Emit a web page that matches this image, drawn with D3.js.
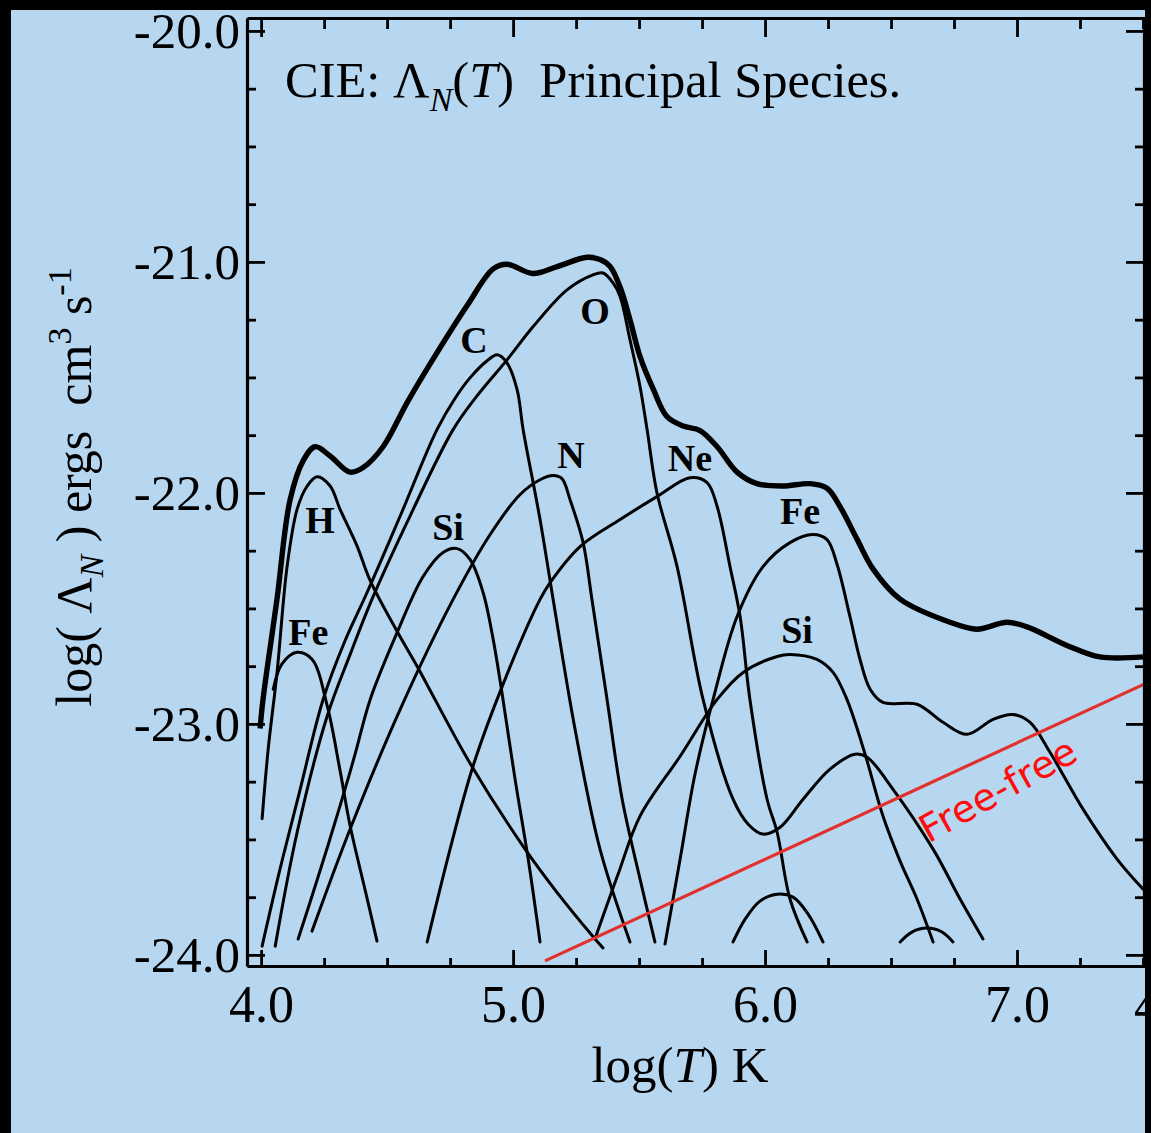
<!DOCTYPE html>
<html><head><meta charset="utf-8">
<script src="https://cdn.jsdelivr.net/npm/d3@7"></script>
<style>
html,body{margin:0;padding:0;background:#b7d7f0;}
svg{display:block}
text{font-family:"Liberation Serif","Times New Roman",serif;}
</style>
</head><body>
<svg id="c" width="1151" height="1133"></svg>
<script>
// ---------- DATA (log T, log Lambda) ----------
const xMajorTicks = [4.0, 5.0, 6.0, 7.0];
const xTickLabels = ["4.0", "5.0", "6.0", "7.0"];
const yMajorTicks = [-20, -21, -22, -23, -24];
const yTickLabels = ["-20.0", "-21.0", "-22.0", "-23.0", "-24.0"];
const xMinorTicks = [4.25,4.5,4.75,5.25,5.5,5.75,6.25,6.5,6.75,7.25,7.5];
const yMinorTicks = [-20.25,-20.5,-20.75,-21.25,-21.5,-21.75,-22.25,-22.5,-22.75,-23.25,-23.5,-23.75];

const total = [[3.996,-23.02],[4.008,-22.89],[4.063,-22.46],[4.115,-22.03],[4.167,-21.86],[4.214,-21.80],[4.274,-21.84],[4.353,-21.91],[4.405,-21.89],[4.484,-21.80],[4.579,-21.61],[4.683,-21.42],[4.817,-21.19],[4.921,-21.03],[4.976,-21.01],[5.079,-21.05],[5.175,-21.02],[5.294,-20.98],[5.345,-20.99],[5.385,-21.02],[5.425,-21.11],[5.464,-21.25],[5.504,-21.41],[5.556,-21.55],[5.611,-21.67],[5.675,-21.71],[5.742,-21.73],[5.810,-21.80],[5.889,-21.91],[5.968,-21.96],[6.071,-21.97],[6.179,-21.96],[6.246,-21.98],[6.298,-22.06],[6.365,-22.20],[6.429,-22.33],[6.536,-22.46],[6.734,-22.56],[6.841,-22.59],[6.960,-22.56],[7.040,-22.58],[7.198,-22.66],[7.329,-22.71],[7.500,-22.71]];
const hydrogen = [[4.004,-23.41],[4.028,-23.11],[4.063,-22.78],[4.103,-22.32],[4.143,-22.07],[4.183,-21.97],[4.222,-21.93],[4.274,-21.97],[4.313,-22.07],[4.381,-22.23],[4.433,-22.38],[4.540,-22.60],[4.619,-22.75],[4.829,-23.17],[5.040,-23.53],[5.175,-23.73],[5.317,-23.92],[5.357,-23.97]];
const ironLow = [[4.048,-22.85],[4.083,-22.74],[4.143,-22.69],[4.202,-22.72],[4.262,-22.92],[4.313,-23.20],[4.353,-23.44],[4.413,-23.72],[4.460,-23.94]];
const carbon = [[4.004,-23.962],[4.075,-23.629],[4.155,-23.283],[4.246,-22.894],[4.333,-22.640],[4.421,-22.430],[4.552,-22.100],[4.698,-21.726],[4.770,-21.590],[4.829,-21.502],[4.897,-21.428],[4.937,-21.402],[4.976,-21.437],[5.016,-21.553],[5.040,-21.726],[5.107,-22.115],[5.159,-22.461],[5.246,-23.023],[5.345,-23.542],[5.464,-23.944]];
const oxygen = [[4.056,-23.962],[4.143,-23.469],[4.262,-22.967],[4.353,-22.700],[4.444,-22.450],[4.591,-22.100],[4.762,-21.726],[4.857,-21.580],[4.976,-21.424],[5.079,-21.281],[5.214,-21.121],[5.317,-21.056],[5.357,-21.048],[5.397,-21.091],[5.425,-21.151],[5.464,-21.337],[5.504,-21.540],[5.532,-21.726],[5.571,-21.999],[5.651,-22.319],[5.754,-22.894],[5.873,-23.326],[5.933,-23.434],[5.992,-23.477],[6.060,-23.447],[6.151,-23.326],[6.258,-23.196],[6.357,-23.131],[6.405,-23.144],[6.508,-23.283],[6.667,-23.542],[6.774,-23.758],[6.865,-23.931]];
const siliconLow = [[4.147,-23.931],[4.226,-23.663],[4.313,-23.356],[4.373,-23.131],[4.433,-22.894],[4.540,-22.604],[4.643,-22.362],[4.722,-22.258],[4.778,-22.241],[4.829,-22.288],[4.881,-22.431],[4.921,-22.634],[4.960,-22.894],[5.008,-23.240],[5.060,-23.585],[5.107,-23.944]];
const nitrogen = [[4.202,-23.897],[4.353,-23.456],[4.552,-22.937],[4.762,-22.461],[4.909,-22.180],[5.028,-22.007],[5.107,-21.943],[5.159,-21.925],[5.194,-21.938],[5.226,-22.029],[5.278,-22.215],[5.313,-22.461],[5.373,-22.894],[5.433,-23.326],[5.504,-23.672],[5.563,-23.944]];
const neon = [[4.659,-23.944],[4.750,-23.542],[4.841,-23.183],[4.968,-22.807],[5.107,-22.461],[5.147,-22.388],[5.266,-22.232],[5.425,-22.115],[5.571,-22.016],[5.702,-21.934],[5.770,-21.955],[5.810,-22.059],[5.861,-22.319],[5.901,-22.535],[5.940,-22.894],[6.008,-23.326],[6.048,-23.469],[6.099,-23.758],[6.167,-23.944]];
const ironHigh = [[5.603,-23.953],[5.663,-23.585],[5.722,-23.218],[5.794,-22.894],[5.889,-22.535],[5.992,-22.319],[6.099,-22.215],[6.190,-22.180],[6.246,-22.202],[6.286,-22.310],[6.337,-22.535],[6.377,-22.721],[6.417,-22.850],[6.468,-22.907],[6.603,-22.915],[6.706,-22.993],[6.802,-23.045],[6.905,-22.980],[6.984,-22.959],[7.052,-22.993],[7.131,-23.123],[7.262,-23.369],[7.397,-23.585],[7.500,-23.715]];
const siliconHigh = [[5.325,-23.931],[5.417,-23.650],[5.504,-23.399],[5.663,-23.140],[5.810,-22.894],[5.913,-22.777],[6.048,-22.708],[6.099,-22.699],[6.206,-22.721],[6.270,-22.777],[6.325,-22.894],[6.397,-23.131],[6.468,-23.399],[6.536,-23.594],[6.603,-23.758],[6.667,-23.944]];
const minorBumpA = [[5.873,-23.944],[5.921,-23.845],[5.980,-23.767],[6.048,-23.737],[6.111,-23.750],[6.171,-23.823],[6.230,-23.944]];
const minorBumpB = [[6.536,-23.944],[6.583,-23.901],[6.643,-23.884],[6.702,-23.901],[6.746,-23.944]];
const freeFree = [[5.127,-24.026],[7.52,-22.82]];

const speciesNames = ["Fe","H","Si","C","O","N","Ne","Fe","Si"];
const speciesLabelAt = [[4.187,-22.60],[4.234,-22.115],[4.742,-22.146],[4.845,-21.337],[5.325,-21.208],[5.230,-21.834],[5.702,-21.847],[6.139,-22.077],[6.127,-22.591]];
const freeFreeLabel = "Free-free";
const freeFreeLabelAt = [6.950,-23.335];

// ---------- CHART ----------
const svg = d3.select("#c");
const W = 1151, H = 1133;
svg.append("rect").attr("width", W).attr("height", H).attr("fill", "#b7d7f0");

const x = d3.scaleLinear().domain([3.944, 7.508]).range([247, 1145]);
const y = d3.scaleLinear().domain([-24.048, -19.944]).range([966, 18]);

const line = d3.line().x(d => x(d[0])).y(d => y(d[1])).curve(d3.curveCatmullRom.alpha(0.5));

const thin = [hydrogen, ironLow, carbon, oxygen, siliconLow, nitrogen, neon, ironHigh, siliconHigh, minorBumpA, minorBumpB];
svg.append("g").selectAll("path").data(thin).join("path")
  .attr("d", line).attr("fill", "none").attr("stroke", "#000")
  .attr("stroke-width", 3).attr("stroke-linecap", "round").attr("stroke-linejoin", "round");
svg.append("path").datum(total).attr("d", line).attr("fill", "none")
  .attr("stroke", "#000").attr("stroke-width", 5.4).attr("stroke-linejoin", "round");

// free-free
svg.append("path").datum(freeFree).attr("d", d3.line().x(d => x(d[0])).y(d => y(d[1])))
  .attr("stroke", "#e2312c").attr("stroke-width", 3.2).attr("fill", "none");
svg.append("text").attr("transform", `translate(${x(freeFreeLabelAt[0])},${y(freeFreeLabelAt[1])}) rotate(-29)`)
  .attr("text-anchor", "middle").style("font-family", "'DejaVu Sans',sans-serif").style("font-size", "38px")
  .style("letter-spacing", "0.5px")
  .attr("fill", "#ff0d0d").text(freeFreeLabel);

// species labels
svg.append("g").selectAll("text").data(speciesNames).join("text")
  .attr("x", (d, i) => x(speciesLabelAt[i][0])).attr("y", (d, i) => y(speciesLabelAt[i][1]))
  .attr("dy", "0.36em").attr("text-anchor", "middle")
  .style("font-weight", "bold").style("font-size", "38px").text(d => d);

// axes
function styleAxis(g) {
  g.select(".domain").attr("stroke", "#000").attr("stroke-width", 3.2);
  g.selectAll(".tick line").attr("stroke", "#000").attr("stroke-width", 2.8);
}
const fmtX = d => xTickLabels[xMajorTicks.indexOf(d)];
const fmtY = d => yTickLabels[yMajorTicks.indexOf(d)];

const gB = svg.append("g").attr("transform", "translate(0,966)");
gB.call(d3.axisBottom(x).tickValues(xMinorTicks).tickSize(-8).tickSizeOuter(0).tickFormat(""));
gB.append("g").call(d3.axisBottom(x).tickValues(xMajorTicks).tickSize(-16).tickSizeOuter(0).tickPadding(19).tickFormat(fmtX));
gB.selectAll("text").attr("fill", "#000").style("font-size", "52px").style("font-family", "'Liberation Serif',serif");
styleAxis(gB); styleAxis(gB.select("g"));

const gT = svg.append("g").attr("transform", "translate(0,18)");
gT.call(d3.axisTop(x).tickValues(xMinorTicks).tickSize(-11).tickSizeOuter(0).tickFormat(""));
gT.append("g").call(d3.axisTop(x).tickValues(xMajorTicks).tickSize(-19).tickSizeOuter(0).tickFormat(""));
styleAxis(gT); styleAxis(gT.select("g"));

const gL = svg.append("g").attr("transform", "translate(247,0)");
gL.call(d3.axisLeft(y).tickValues(yMinorTicks).tickSize(-9).tickSizeOuter(0).tickFormat(""));
gL.append("g").call(d3.axisLeft(y).tickValues(yMajorTicks).tickSize(-18).tickSizeOuter(0).tickPadding(7).tickFormat(fmtY));
gL.selectAll("text").attr("fill", "#000").style("font-size", "51px").style("font-family", "'Liberation Serif',serif");
styleAxis(gL); styleAxis(gL.select("g"));

const gR = svg.append("g").attr("transform", "translate(1144,0)");
gR.call(d3.axisRight(y).tickValues(yMinorTicks).tickSize(-9).tickSizeOuter(0).tickFormat(""));
gR.append("g").call(d3.axisRight(y).tickValues(yMajorTicks).tickSize(-18).tickSizeOuter(0).tickFormat(""));
styleAxis(gR); styleAxis(gR.select("g"));

// title
const title = svg.append("text").attr("x", 285).attr("y", 97).style("font-size", "50.5px").attr("fill", "#000")
  .attr("xml:space", "preserve").style("white-space", "pre");
title.append("tspan").text("CIE: Λ");
title.append("tspan").attr("dy", 14).style("font-size", "34px").style("font-style", "italic").text("N");
title.append("tspan").attr("dy", -14).text("(");
title.append("tspan").style("font-style", "italic").text("T");
title.append("tspan").text(")  Principal Species.");

// x axis title
const xt = svg.append("text").attr("x", 680).attr("y", 1082).attr("text-anchor", "middle").style("font-size", "51px");
xt.append("tspan").text("log(");
xt.append("tspan").style("font-style", "italic").text("T");
xt.append("tspan").text(") K");

// y axis title
const yt = svg.append("text").attr("transform", "translate(91,487) rotate(-90)").attr("text-anchor", "middle")
  .style("font-size", "50px").style("white-space", "pre");
yt.append("tspan").text("log( Λ");
yt.append("tspan").attr("dy", 12).style("font-size", "34px").style("font-style", "italic").text("N");
yt.append("tspan").attr("dy", -12).text(" ) ergs  cm");
yt.append("tspan").attr("dy", -20).style("font-size", "34px").text("3");
yt.append("tspan").attr("dy", 20).text(" s");
yt.append("tspan").attr("dy", -20).style("font-size", "34px").text("-1");

// cropped neighbour label at right edge (partly hidden, as in the original scan)
svg.append("text").attr("x", 1134).attr("y", 1023).style("font-size", "52px").text("4");

// black borders of the photographed page
svg.append("rect").attr("x", 0).attr("y", 0).attr("width", W).attr("height", 10).attr("fill", "#000");
svg.append("rect").attr("x", 0).attr("y", 0).attr("width", 11).attr("height", H).attr("fill", "#000");
svg.append("rect").attr("x", 1145).attr("y", 0).attr("width", 6).attr("height", H).attr("fill", "#000");
</script>
</body></html>
